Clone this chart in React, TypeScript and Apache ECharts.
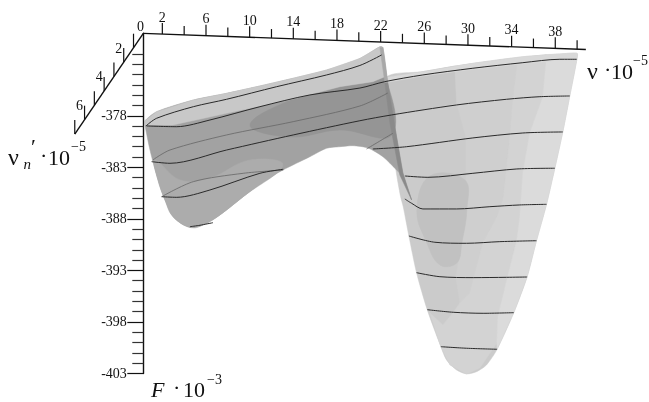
import React, { useEffect, useRef } from "react";
import * as echarts from "echarts";

type P = number[];

// axis tick values
const nuTicks = [2, 4, 6, 8, 10, 12, 14, 16, 18, 20, 22, 24, 26, 28, 30, 32, 34, 36, 38, 40];
const nuLabels = [0, 2, 6, 10, 14, 18, 22, 26, 30, 34, 38];
const depthTicks = [1, 2, 3, 4, 5, 6, 7];
const depthLabels = [2, 4, 6];
const forceMajor = [-403, -398, -393, -388, -383, -378];
const forceMinor = [-402, -401, -400, -399, -397, -396, -395, -394, -392, -391, -390, -389, -387, -386, -385, -384, -382, -381, -380, -379, -377, -376, -375, -374, -373, -372];

// surface outlines (nu, F as seen on the picture plane)
const rightLobe: P[] = [[22.55,-374.27],[25.87,-373.72],[30.45,-372.91],[35.03,-372.27],[38.42,-372.01],[40,-371.94],[39.97,-372.59],[39.33,-376.08],[38.69,-379.57],[37.96,-383.09],[37.2,-386.59],[36.28,-390.12],[35.42,-393.64],[34.2,-397.1],[32.67,-400.65],[31.7,-402.17],[30.79,-402.82],[29.87,-403.04],[28.96,-402.66],[28.04,-401.69],[27.52,-400.4],[26.27,-396.81],[25.29,-393.22],[24.59,-389.66],[24.07,-386.82],[23.83,-385.85],[23.4,-383.26],[22.85,-378.7]];
const rightStrip: P[] = [[22.55,-374.27],[25.87,-373.72],[30.45,-372.91],[35.03,-372.27],[38.42,-372.01],[40,-371.94],[39.97,-372.59],[38.42,-372.62],[35.03,-372.95],[30.45,-373.49],[25.87,-374.14],[22.39,-374.79]];
const rightBandA: P[] = [[22.55,-374.27],[25.87,-373.72],[28.8,-373.17],[28.96,-376.76],[23,-377.92]];
const rightBandC: P[] = [[28.8,-373.17],[34.58,-372.4],[34.11,-376.47],[33.84,-380.06],[33.2,-386.17],[32.65,-387.82],[31.36,-390.34],[30.17,-395.19],[29.26,-396.16],[28.89,-393.64],[29.44,-390.34],[29.9,-387.14],[29.81,-383.55],[29.81,-380.06],[28.96,-376.76]];
const rightBandD: P[] = [[34.58,-372.4],[37.22,-372.06],[36.86,-376.18],[35.67,-379.67],[35.03,-383.55],[34.75,-387.82],[34.48,-390.05],[33.56,-393.93],[32.74,-397.52],[32.65,-400.04],[31.09,-402.46],[29.87,-403.04],[28.34,-402.17],[27.52,-400.4],[26.51,-397.13],[27.7,-398.29],[28.62,-397.13],[29.26,-396.16],[30.17,-395.19],[31.36,-390.34],[32.65,-387.82],[33.2,-386.17],[33.84,-380.06],[34.11,-376.47]];
const rightBandE: P[] = [[37.22,-372.06],[40,-371.94],[39.97,-372.59],[39.33,-376.08],[38.69,-379.57],[37.96,-383.09],[37.2,-386.59],[36.28,-390.12],[35.42,-393.64],[34.2,-397.1],[32.67,-400.65],[32.65,-400.04],[32.74,-397.52],[33.56,-393.93],[34.48,-390.05],[34.75,-387.82],[35.03,-383.55],[35.67,-379.67],[36.86,-376.18]];
const rightShade: P[] = [[25.32,-387.14],[26.24,-390.34],[27.43,-392.47],[28.98,-392.28],[29.44,-390.34],[29.9,-387.14],[29.72,-384.23],[26.51,-383.84]];
const leftLobe: P[] = [[0.41,-378.48],[1.48,-377.6],[4.84,-376.47],[7.89,-375.82],[10.94,-375.11],[13.99,-374.36],[17.05,-373.56],[20.1,-372.44],[21.93,-371.3],[22.21,-371.38],[22.66,-374.82],[23.31,-379.09],[24.04,-383.55],[24.84,-386.17],[24.04,-383.94],[23.46,-383.26],[22.21,-381.97],[20.83,-381.12],[19.46,-380.9],[18.27,-381],[17.05,-381.15],[15.52,-381.97],[13.05,-383.26],[11.25,-384.39],[9.41,-385.85],[7.28,-387.62],[5.91,-388.5],[4.69,-388.85],[3.92,-388.59],[2.98,-387.79],[2.24,-386.17],[1.6,-384.23],[0.87,-381.32],[0.41,-378.89]];
const leftBand: P[] = [[0.41,-378.48],[1.48,-377.6],[4.84,-376.47],[7.89,-375.82],[10.94,-375.11],[13.99,-374.36],[17.05,-373.56],[20.1,-372.44],[21.93,-371.3],[22.21,-371.38],[22.39,-374.21],[21.29,-374.69],[18.27,-375.18],[13.99,-376.37],[7.89,-377.76],[2.98,-378.89],[0.41,-378.89]];
const leftDark: P[] = [[22.39,-374.21],[23.03,-379.86],[18.27,-379.38],[13.69,-380.06],[10.03,-378.89],[13.99,-376.37],[18.27,-375.18],[21.29,-374.69]];
const leftLight: P[] = [[1.33,-382.29],[3.62,-384.23],[6.36,-384.04],[10.03,-382.29],[13.05,-382.77],[9.41,-385.85],[7.28,-387.62],[5.91,-388.5],[4.69,-388.85],[2.98,-387.79],[2.24,-386.17],[1.6,-384.23]];
const seamUpper: P[] = [[21.93,-371.38],[22.21,-371.38],[22.66,-374.82],[22.39,-374.82]];
const seamLower: P[] = [[22.39,-374.82],[22.66,-374.82],[23.31,-379.09],[24.04,-383.55],[24.84,-386.17],[23.76,-383.75],[22.85,-378.7]];

// level curves
const curve1Back: P[] = [[0.5,-378.99],[1.48,-378.24],[4.84,-377.12],[7.89,-376.4],[12.47,-375.18],[17.05,-374.04],[20.1,-373.12],[22.09,-372.1]];
const curve1: P[] = [[0.57,-378.99],[3.32,-379.06],[6.36,-378.41],[10.94,-377.12],[15.52,-375.98],[20.1,-375.31],[22.39,-374.69],[25.87,-374.04],[30.45,-373.39],[35.03,-372.85],[38.42,-372.52],[39.97,-372.52]];
const curve2Back: P[] = [[1.12,-382.29],[2.7,-381.32],[7.89,-379.86],[13.99,-378.57],[20.1,-377.05],[22.66,-375.79]];
const curve2: P[] = [[1.02,-382.45],[2.7,-382.61],[7.89,-381.32],[13.99,-379.86],[20.1,-378.48],[23,-377.92],[28.96,-376.95],[33.54,-376.4],[36.59,-376.15],[39.33,-376.08]];
const curve3BackL: P[] = [[1.94,-385.85],[4.84,-384.39],[9.41,-383.58],[13.08,-383.26]];
const curve3L: P[] = [[1.94,-385.85],[3.32,-385.91],[6.36,-385.2],[10.94,-383.58],[13.08,-383.19]];
const curve3BackR: P[] = [[20.71,-381.22],[23.12,-379.7]];
const curve3R: P[] = [[21.29,-381.22],[24.38,-381],[30.45,-380.15],[35.03,-379.67],[38.69,-379.57]];
const curve4L: P[] = [[4.53,-388.76],[5.45,-388.62],[6.64,-388.37]];
const curve4R: P[] = [[24.22,-383.84],[26.33,-383.97],[30.45,-383.58],[34.48,-383.16],[37.96,-383.09]];
const curve5: P[] = [[24.22,-386.07],[24.84,-386.49],[25.87,-387.04],[28.96,-387.04],[32.01,-386.82],[34.75,-386.65],[37.2,-386.59]];
const curve6: P[] = [[24.59,-389.66],[26.97,-390.27],[29.87,-390.37],[32.92,-390.21],[36.28,-390.12]];
const curve7: P[] = [[25.29,-393.22],[27.43,-393.61],[30.48,-393.7],[33.54,-393.67],[35.42,-393.64]];
const curve8: P[] = [[26.27,-396.81],[28.65,-397.06],[31.39,-397.16],[34.2,-397.1]];
const curve9: P[] = [[27.52,-400.4],[29.87,-400.55],[32.67,-400.65]];

const patches: [P[], string, number][] = [
  [rightLobe, "#cbcbcb", 0.25],
  [rightBandA, "#c5c5c5", 0],
  [rightBandC, "#cfcfcf", 0],
  [rightBandD, "#d3d3d3", 0],
  [rightBandE, "#dbdbdb", 0],
  [rightShade, "#c1c1c1", 0.4],
  [rightStrip, "#d9d9d9", 0],
  [leftLobe, "#a2a2a2", 0.25],
  [leftDark, "#959595", 0.4],
  [leftLight, "#acacac", 0.4],
  [leftBand, "#c8c8c8", 0],
  [seamUpper, "#a8a8a8", 0],
  [seamLower, "#8a8a8a", 0],
];

const darkCurves = [curve1Back, curve1, curve2, curve3L, curve3R, curve4L, curve4R, curve5, curve6, curve7, curve8, curve9];
const thinCurves = [curve2Back, curve3BackL, curve3BackR];

// oblique picture-plane directions of the two slanted axes
const nuOrigin = 0.256;
const nuSlope = -0.0384;
const depthDirNu = -0.897;
const depthDirF = -1.397;
const topF = -370;
const nuPoint = (v: number) => [v, topF + nuSlope * v];
const depthPoint = (d: number) => [nuOrigin + depthDirNu * d, topF + depthDirF * d];

const FONT = '"Liberation Serif", "Times New Roman", serif';
const AXIS = "#111111";

const App = () => {
  const ref = useRef<HTMLDivElement>(null);
  useEffect(() => {
    const chart = echarts.init(ref.current!, null, { renderer: "svg" });

    const axisSeries = {
      type: "custom",
      silent: true,
      clip: false,
      z: 5,
      data: [0],
      renderItem: (_: any, api: any) => {
        const children: any[] = [];
        const seg = (a: number[], b: number[], w = 1.2) =>
          children.push({ type: "line", shape: { x1: a[0], y1: a[1], x2: b[0], y2: b[1] }, style: { stroke: AXIS, lineWidth: w } });
        const label = (t: string, x: number, y: number) =>
          children.push({ type: "text", style: { x, y, text: t, fontFamily: FONT, fontSize: 14, fill: "#111", align: "center", verticalAlign: "middle" } });
        const o = api.coord(nuPoint(nuOrigin));
        seg(o, api.coord(nuPoint(40.8)), 1.4);
        nuTicks.forEach((t) => {
          const p = api.coord(nuPoint(t));
          seg(p, [p[0], p[1] - (nuLabels.includes(t) ? 11 : 9)]);
        });
        nuLabels.forEach((t) => {
          const p = api.coord(nuPoint(t));
          label(String(t), p[0], p[1] - (t === 0 ? 7 : 17));
        });
        seg(o, api.coord(depthPoint(7)), 1.4);
        depthTicks.forEach((d) => {
          const p = api.coord(depthPoint(d));
          seg(p, [p[0], p[1] - 14]);
        });
        depthLabels.forEach((d) => {
          const p = api.coord(depthPoint(d));
          label(String(d), p[0] - 5, p[1] - 14);
        });
        return { type: "group", children };
      },
    };

    const surface = {
      type: "custom",
      silent: true,
      clip: false,
      z: 2,
      data: patches.map((_, i) => i),
      renderItem: (_: any, api: any) => {
        const [pts, color, smooth] = patches[api.value(0)];
        return {
          type: "polygon",
          shape: { points: pts.map((p) => api.coord(p)), smooth },
          style: { fill: color, stroke: color, lineWidth: 0.5 },
        };
      },
    };

    const curve = (d: P[], color: string, w: number) => ({
      type: "line",
      data: d,
      showSymbol: false,
      silent: true,
      clip: false,
      smooth: 0.3,
      z: 3,
      lineStyle: { color, width: w },
    });

    const txt = (text: string, x: number, y: number, size: number, style = "normal") => ({
      type: "text",
      x,
      y,
      style: { text, fontFamily: FONT, fontSize: size, fontStyle: style, fill: "#111", lineHeight: size * 0.75, textVerticalAlign: "bottom" },
      silent: true,
    });

    chart.setOption({
      animation: false,
      grid: { left: 143.3, top: 33.3, width: 433.8, height: 340.2, containLabel: false },
      xAxis: { type: "value", min: nuOrigin, max: 40, show: false },
      yAxis: [
        {
          type: "value", min: -403, max: -370, position: "left", splitLine: { show: false },
          axisLine: { show: true, lineStyle: { color: AXIS, width: 1.4 } },
          axisTick: { show: true, length: 16, customValues: forceMajor, lineStyle: { color: AXIS, width: 1.2 } },
          axisLabel: { show: true, customValues: forceMajor, margin: 16.5, fontFamily: FONT, fontSize: 14, color: "#111", formatter: (v: number) => String(v) },
        },
        {
          type: "value", min: -403, max: -370, position: "left", splitLine: { show: false },
          axisLine: { show: false },
          axisTick: { show: true, length: 11, customValues: forceMinor, lineStyle: { color: "#333", width: 1.2 } },
          axisLabel: { show: false },
        },
      ],
      graphic: [
        txt("ν", 587, 80, 24),
        txt("·", 604, 78, 22),
        txt("10", 611, 80, 22),
        txt("−5", 633, 66, 14),
        txt("ν", 8, 166, 24),
        txt("′", 31, 155, 22),
        txt("n", 23.5, 170, 15, "italic"),
        txt("·", 40, 164, 22),
        txt("10", 48, 166, 22),
        txt("−5", 71, 152, 14),
        txt("F", 151, 398, 22, "italic"),
        txt("·", 173, 396, 22),
        txt("10", 183, 398, 22),
        txt("−3", 207, 385, 14),
      ],
      series: [
        surface,
        ...thinCurves.map((d) => curve(d, "#666666", 0.8)),
        ...darkCurves.map((d) => curve(d, "#2a2a2a", 1)),
        axisSeries,
      ],
    });
    return () => chart.dispose();
  }, []);
  return <div ref={ref} style={{ position: "fixed", left: 0, top: 0, width: 649, height: 402 }} />;
};

export default App;
